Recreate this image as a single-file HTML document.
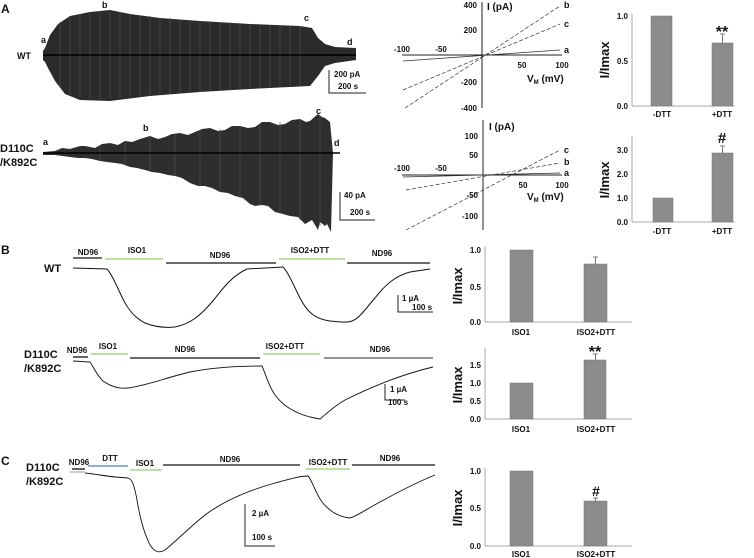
<!DOCTYPE html>
<html><head><meta charset="utf-8"><style>
html,body{margin:0;padding:0;background:#fff;}
svg{display:block;font-family:"Liberation Sans",Arial,sans-serif;font-weight:bold;}
</style></head><body>
<svg width="754" height="558" viewBox="0 0 754 558" xmlns="http://www.w3.org/2000/svg">
<g font-size="9" fill="#111">
<text x="1" y="13" font-size="12">A</text>
<text x="1" y="254" font-size="12">B</text>
<text x="1" y="465" font-size="12">C</text>

<!-- A WT trace -->
<polygon fill="#2b2b2b" points="43,51 45,48 50,35 58,24 70,16 90,12 110,10 130,14 160,18 200,21 250,24 300,26 312,28 318,38 325,44 335,47 356,48 356,60 335,63 325,66 318,76 310,86 250,89 200,92 150,96 110,101 80,100 65,94 55,81 48,68 45,62 43,60"/>
<g stroke="#555" stroke-width="0.6">
<line x1="60" y1="22" x2="60" y2="88"/><line x1="70" y1="17" x2="70" y2="95"/><line x1="80" y1="14" x2="80" y2="98"/><line x1="90" y1="13" x2="90" y2="99"/><line x1="100" y1="12" x2="100" y2="99"/><line x1="110" y1="11" x2="110" y2="99"/><line x1="120" y1="12" x2="120" y2="98"/><line x1="130" y1="14" x2="130" y2="97"/><line x1="140" y1="15" x2="140" y2="96"/><line x1="150" y1="16" x2="150" y2="95"/><line x1="160" y1="18" x2="160" y2="95"/><line x1="170" y1="18" x2="170" y2="94"/><line x1="180" y1="19" x2="180" y2="93"/><line x1="190" y1="20" x2="190" y2="92"/><line x1="200" y1="21" x2="200" y2="92"/><line x1="210" y1="21" x2="210" y2="91"/><line x1="220" y1="22" x2="220" y2="90"/><line x1="230" y1="22" x2="230" y2="90"/><line x1="240" y1="23" x2="240" y2="89"/><line x1="250" y1="24" x2="250" y2="88"/><line x1="260" y1="24" x2="260" y2="88"/><line x1="270" y1="25" x2="270" y2="87"/><line x1="280" y1="25" x2="280" y2="87"/><line x1="290" y1="26" x2="290" y2="86"/><line x1="300" y1="26" x2="300" y2="86"/>
</g>
<line x1="43" y1="55" x2="356" y2="55" stroke="#000" stroke-width="1.5"/>
<text x="41" y="43">a</text><text x="102" y="8">b</text><text x="304" y="21">c</text><text x="347" y="45">d</text>
<text x="17" y="59">WT</text>
<path d="M329,70 V93 H366" fill="none" stroke="#222" stroke-width="1"/>
<text x="334" y="77" font-size="8">200 pA</text><text x="338" y="89" font-size="8">200 s</text>

<!-- A D110C trace -->
<polygon fill="#2e2e2e" points="43,152 55,151 62,148 70,149 80,146 85,146 95,148 102,144 110,143 118,145 125,141 132,142 140,139 150,136 158,139 165,137 172,134 180,133 188,135 195,132 202,129 210,128 218,131 225,130 232,126 240,126 248,128 255,127 262,122 270,122 278,125 285,124 292,120 300,119 306,122 310,121 318,114 322,117 325,118 330,122 333,153 331,232 327,224 325,226 320,222 318,230 312,220 305,224 298,217 290,216 283,214 275,212 268,206 262,205 255,206 250,204 243,198 235,196 228,193 220,192 212,188 205,186 198,186 190,183 182,178 175,176 168,175 160,173 152,172 145,170 137,168 130,167 122,164 115,163 107,162 100,161 92,159 85,158 78,158 70,157 55,155 43,155"/>
<g stroke="#555" stroke-width="0.6">
<line x1="100" y1="145" x2="100" y2="161"/><line x1="125" y1="142" x2="125" y2="165"/><line x1="150" y1="137" x2="150" y2="172"/><line x1="175" y1="134" x2="175" y2="176"/><line x1="200" y1="130" x2="200" y2="186"/><line x1="220" y1="129" x2="220" y2="191"/><line x1="240" y1="126" x2="240" y2="198"/><line x1="260" y1="124" x2="260" y2="205"/><line x1="280" y1="122" x2="280" y2="212"/><line x1="300" y1="120" x2="300" y2="220"/><line x1="320" y1="116" x2="320" y2="226"/>
</g>
<line x1="43" y1="153" x2="340" y2="153" stroke="#000" stroke-width="1.5"/>
<text x="43" y="145">a</text><text x="143" y="131">b</text><text x="316" y="114">c</text><text x="334" y="146">d</text>
<text x="0" y="152" font-size="11">D110C</text><text x="0" y="166" font-size="11">/K892C</text>
<path d="M340,192 V220 H375" fill="none" stroke="#222" stroke-width="1"/>
<text x="344" y="198" font-size="8">40 pA</text><text x="350" y="215" font-size="8">200 s</text>

<!-- IV plot 1 -->
<line x1="482" y1="2" x2="482" y2="108" stroke="#222"/>
<line x1="402" y1="55" x2="562" y2="55" stroke="#222"/>
<g font-size="8">
<text x="477" y="8" text-anchor="end">400</text><text x="477" y="33" text-anchor="end">200</text><text x="477" y="85" text-anchor="end">-200</text><text x="477" y="111" text-anchor="end">-400</text>
<text x="402" y="52" text-anchor="middle">-100</text><text x="441" y="52" text-anchor="middle">-50</text><text x="522" y="68" text-anchor="middle">50</text><text x="562" y="68" text-anchor="middle">100</text>
</g>
<text x="487" y="10" font-size="10">I (pA)</text>
<text x="527" y="82" font-size="10">V<tspan font-size="6" dy="2">M</tspan><tspan dy="-2"> (mV)</tspan></text>
<line x1="405" y1="108" x2="560" y2="6" stroke="#333" stroke-width="0.7" stroke-dasharray="4,2"/>
<line x1="403" y1="90" x2="560" y2="24" stroke="#333" stroke-width="0.7" stroke-dasharray="4,2"/>
<line x1="403" y1="61" x2="560" y2="50" stroke="#333" stroke-width="0.8"/>
<text x="564" y="53">a</text><text x="564" y="8">b</text><text x="564" y="27">c</text>

<!-- IV plot 2 -->
<line x1="483" y1="120" x2="483" y2="230" stroke="#222"/>
<line x1="402" y1="175" x2="562" y2="175" stroke="#222"/>
<g font-size="8">
<text x="478" y="139" text-anchor="end">100</text><text x="478" y="158" text-anchor="end">50</text><text x="478" y="198" text-anchor="end">-50</text><text x="478" y="219" text-anchor="end">-100</text>
<text x="402" y="171" text-anchor="middle">-100</text><text x="441" y="171" text-anchor="middle">-50</text><text x="523" y="188" text-anchor="middle">50</text><text x="562" y="188" text-anchor="middle">100</text>
</g>
<text x="489" y="130" font-size="10">I (pA)</text>
<text x="527" y="200" font-size="10">V<tspan font-size="6" dy="2">M</tspan><tspan dy="-2"> (mV)</tspan></text>
<line x1="406" y1="230" x2="560" y2="150" stroke="#333" stroke-width="0.7" stroke-dasharray="4,2"/>
<line x1="406" y1="190" x2="560" y2="163" stroke="#333" stroke-width="0.7" stroke-dasharray="4,2"/>
<line x1="403" y1="177" x2="560" y2="173" stroke="#333" stroke-width="0.8"/>
<text x="564" y="176">a</text><text x="564" y="165">b</text><text x="564" y="153">c</text>

<!-- Bar chart A1 -->
<line x1="632" y1="14" x2="632" y2="106" stroke="#aaa"/>
<line x1="632" y1="106" x2="735" y2="106" stroke="#aaa"/>
<g font-size="8"><text x="628" y="19" text-anchor="end">1.0</text><text x="628" y="64" text-anchor="end">0.5</text><text x="628" y="109" text-anchor="end">0.0</text></g>
<rect x="651" y="16" width="21" height="90" fill="#8c8c8c" stroke="#777" stroke-width="0.5"/>
<rect x="712" y="43" width="21" height="63" fill="#8c8c8c" stroke="#777" stroke-width="0.5"/>
<path d="M722.5,43 V34 M720,34 H725" stroke="#777"/>
<text x="722" y="37" font-size="16" text-anchor="middle">**</text>
<text x="662" y="117" font-size="8" text-anchor="middle">-DTT</text><text x="722" y="117" font-size="8" text-anchor="middle">+DTT</text>
<text transform="translate(609,60) rotate(-90)" font-size="13" text-anchor="middle">I/Imax</text>

<!-- Bar chart A2 -->
<line x1="632" y1="136" x2="632" y2="222" stroke="#aaa"/>
<line x1="632" y1="222" x2="735" y2="222" stroke="#aaa"/>
<g font-size="8"><text x="628" y="153" text-anchor="end">3.0</text><text x="628" y="177" text-anchor="end">2.0</text><text x="628" y="201" text-anchor="end">1.0</text><text x="628" y="225" text-anchor="end">0.0</text></g>
<rect x="653" y="198" width="20" height="24" fill="#8c8c8c" stroke="#777" stroke-width="0.5"/>
<rect x="712" y="153" width="21" height="69" fill="#8c8c8c" stroke="#777" stroke-width="0.5"/>
<path d="M722.5,153 V146 M720,146 H725" stroke="#777"/>
<text x="722" y="143" font-size="15" text-anchor="middle">#</text>
<text x="662" y="234" font-size="8" text-anchor="middle">-DTT</text><text x="722" y="234" font-size="8" text-anchor="middle">+DTT</text>
<text transform="translate(609,180) rotate(-90)" font-size="13" text-anchor="middle">I/Imax</text>

<!-- Panel B WT -->
<text x="44" y="272" font-size="11">WT</text>
<g font-size="8" text-anchor="middle">
<text x="88" y="255">ND96</text><text x="137" y="253">ISO1</text><text x="220" y="258">ND96</text><text x="310" y="253">ISO2+DTT</text><text x="382" y="256">ND96</text>
</g>
<g stroke-width="1.3">
<line x1="73" y1="258" x2="102" y2="258" stroke="#111"/>
<line x1="105" y1="259" x2="163" y2="259" stroke="#8cd06a"/>
<line x1="166" y1="263" x2="276" y2="263" stroke="#111"/>
<line x1="279" y1="259" x2="345" y2="259" stroke="#8cd06a"/>
<line x1="347" y1="263" x2="430" y2="263" stroke="#111"/>
</g>
<path d="M73,268 L107,269 C112,274 117,287 122,297 C128,310 135,318 145,323 C155,327 165,328 175,327 C190,324 200,316 212,302 C222,290 230,277 247,269 L283,267 C288,272 292,282 300,298 C307,312 315,319 330,321 C340,322 347,323 352,321 C360,318 366,308 375,298 C385,285 395,276 410,272 L430,269" fill="none" stroke="#111" stroke-width="1"/>
<path d="M398,295 V312 H433" fill="none" stroke="#222"/>
<text x="402" y="301" font-size="8">1 µA</text><text x="412" y="310" font-size="8">100 s</text>

<!-- Panel B D110C -->
<text x="24" y="358" font-size="11">D110C</text><text x="24" y="372" font-size="11">/K892C</text>
<g font-size="8" text-anchor="middle">
<text x="77" y="353">ND96</text><text x="108" y="349">ISO1</text><text x="185" y="352">ND96</text><text x="285" y="349">ISO2+DTT</text><text x="380" y="352">ND96</text>
</g>
<g stroke-width="1.3">
<line x1="73" y1="357" x2="88" y2="357" stroke="#111"/>
<line x1="91" y1="354" x2="128" y2="354" stroke="#8cd06a"/>
<line x1="130" y1="358" x2="260" y2="358" stroke="#111"/>
<line x1="263" y1="354" x2="320" y2="354" stroke="#8cd06a"/>
<line x1="324" y1="358" x2="433" y2="358" stroke="#555"/>
</g>
<path d="M73,361 L90,362 C93,366 96,374 103,381 C110,386 118,389 128,388 C145,386 165,378 190,372 C215,367 240,366 262,366 C265,372 268,385 275,395 C283,406 295,413 310,417 L320,419 C326,414 333,407 345,400 C365,390 395,376 433,367" fill="none" stroke="#111" stroke-width="0.9"/>
<path d="M385,384 V400 H405" fill="none" stroke="#222"/>
<text x="390" y="392" font-size="8">1 µA</text><text x="388" y="405" font-size="8">100 s</text>

<!-- Bar chart B1 -->
<line x1="485" y1="246" x2="485" y2="322" stroke="#aaa"/>
<line x1="485" y1="322" x2="632" y2="322" stroke="#aaa"/>
<g font-size="8"><text x="481" y="253" text-anchor="end">1.0</text><text x="481" y="290" text-anchor="end">0.5</text><text x="481" y="325" text-anchor="end">0.0</text></g>
<rect x="510" y="250" width="23" height="72" fill="#8c8c8c" stroke="#777" stroke-width="0.5"/>
<rect x="584" y="264" width="23" height="58" fill="#8c8c8c" stroke="#777" stroke-width="0.5"/>
<path d="M595.5,264 V257 M593,257 H598" stroke="#777"/>
<text x="521" y="335" font-size="8" text-anchor="middle">ISO1</text><text x="596" y="335" font-size="8" text-anchor="middle">ISO2+DTT</text>
<text transform="translate(462,286) rotate(-90)" font-size="13" text-anchor="middle">I/Imax</text>

<!-- Bar chart B2 -->
<line x1="485" y1="348" x2="485" y2="419" stroke="#aaa"/>
<line x1="485" y1="419" x2="632" y2="419" stroke="#aaa"/>
<g font-size="8"><text x="481" y="368" text-anchor="end">1.5</text><text x="481" y="386" text-anchor="end">1.0</text><text x="481" y="404" text-anchor="end">0.5</text><text x="481" y="422" text-anchor="end">0.0</text></g>
<rect x="510" y="383" width="23" height="36" fill="#8c8c8c" stroke="#777" stroke-width="0.5"/>
<rect x="584" y="360" width="22" height="59" fill="#8c8c8c" stroke="#777" stroke-width="0.5"/>
<path d="M595.5,360 V354 M593,354 H598" stroke="#777"/>
<text x="595" y="357" font-size="16" text-anchor="middle">**</text>
<text x="521" y="432" font-size="8" text-anchor="middle">ISO1</text><text x="596" y="432" font-size="8" text-anchor="middle">ISO2+DTT</text>
<text transform="translate(462,385) rotate(-90)" font-size="13" text-anchor="middle">I/Imax</text>

<!-- Panel C trace -->
<text x="26" y="471" font-size="11">D110C</text><text x="26" y="485" font-size="11">/K892C</text>
<g font-size="8" text-anchor="middle">
<text x="79" y="465">ND96</text><text x="110" y="461">DTT</text><text x="145" y="466">ISO1</text><text x="230" y="462">ND96</text><text x="328" y="465">ISO2+DTT</text><text x="390" y="461">ND96</text>
</g>
<g stroke-width="1.3">
<line x1="72" y1="469" x2="85" y2="469" stroke="#111"/>
<line x1="88" y1="466" x2="128" y2="466" stroke="#4a7fc0"/>
<line x1="130" y1="470" x2="162" y2="470" stroke="#8cd06a"/>
<line x1="163" y1="465" x2="300" y2="465" stroke="#111"/>
<line x1="306" y1="469" x2="350" y2="469" stroke="#8cd06a"/>
<line x1="352" y1="465" x2="435" y2="465" stroke="#111"/>
</g>
<line x1="70" y1="472" x2="85" y2="472" stroke="#999" stroke-width="1"/>
<path d="M85,473 C95,474 105,476 115,477 L128,478 C132,479 134,484 137,500 C140,518 145,535 150,545 C155,553 160,553 165,550 C175,542 190,527 205,515 C225,500 250,490 275,483 C290,479 300,476 308,476 C312,480 315,492 322,502 C330,512 340,517 350,518 C357,516 365,510 380,502 C400,491 420,481 435,475" fill="none" stroke="#111" stroke-width="0.9"/>
<path d="M245,504 V546 H275" fill="none" stroke="#222"/>
<text x="252" y="516" font-size="8">2 µA</text><text x="252" y="540" font-size="8">100 s</text>

<!-- Bar chart C -->
<line x1="485" y1="468" x2="485" y2="546" stroke="#aaa"/>
<line x1="485" y1="546" x2="632" y2="546" stroke="#aaa"/>
<g font-size="8"><text x="481" y="474" text-anchor="end">1.0</text><text x="481" y="511" text-anchor="end">0.5</text><text x="481" y="549" text-anchor="end">0.0</text></g>
<rect x="510" y="471" width="23" height="75" fill="#8c8c8c" stroke="#777" stroke-width="0.5"/>
<rect x="584" y="501" width="23" height="45" fill="#8c8c8c" stroke="#777" stroke-width="0.5"/>
<path d="M595.5,501 V498 M593,498 H598" stroke="#777"/>
<text x="596" y="496" font-size="14" text-anchor="middle">#</text>
<text x="521" y="557" font-size="8" text-anchor="middle">ISO1</text><text x="596" y="557" font-size="8" text-anchor="middle">ISO2+DTT</text>
<text transform="translate(462,508) rotate(-90)" font-size="13" text-anchor="middle">I/Imax</text>
</g>
</svg>
</body></html>
